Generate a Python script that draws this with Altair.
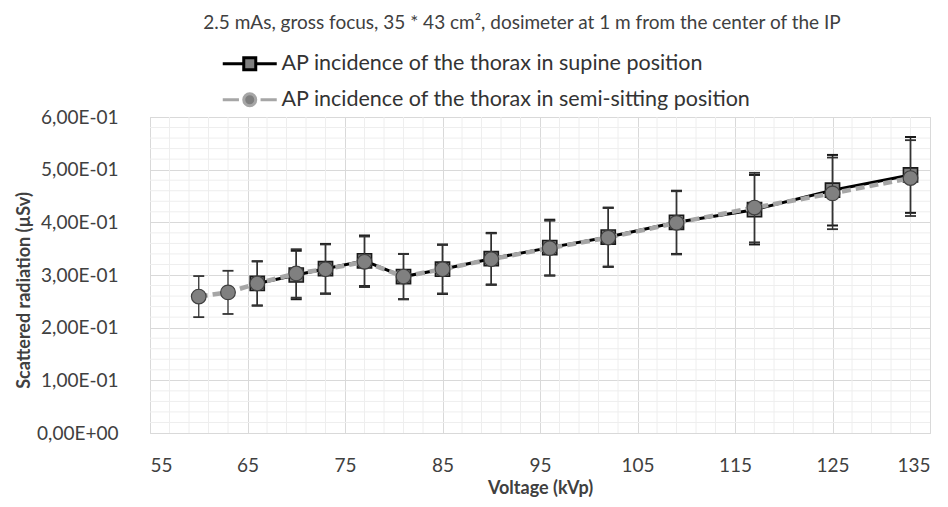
import altair as alt
import pandas as pd

# ---- data ----
series_names = ["AP incidence of the thorax in supine position",
                "AP incidence of the thorax in semi-sitting position"]

kvp_supine = [66, 70, 73, 77, 81, 85, 90, 96, 102, 109, 117, 125, 133]
dose_supine = [0.284, 0.300, 0.312, 0.327, 0.297, 0.311, 0.331, 0.352, 0.372, 0.400, 0.424, 0.461, 0.490]
err_supine = [0.042, 0.046, 0.047, 0.048, 0.043, 0.047, 0.049, 0.053, 0.056, 0.060, 0.066, 0.067, 0.072]

kvp_semi = [60, 63, 66, 70, 73, 77, 81, 85, 90, 96, 102, 109, 117, 125, 133]
dose_semi = [0.259, 0.267, 0.284, 0.303, 0.311, 0.325, 0.297, 0.311, 0.330, 0.351, 0.371, 0.399, 0.428, 0.455, 0.484]
err_semi = [0.039, 0.041, 0.042, 0.046, 0.047, 0.048, 0.043, 0.046, 0.049, 0.052, 0.056, 0.060, 0.066, 0.068, 0.072]

x_ticks = [55, 65, 75, 85, 95, 105, 115, 125, 135]
y_ticks = [0.0, 0.1, 0.2, 0.3, 0.4, 0.5, 0.6]
x_minor = [v for v in range(55, 136, 2) if (v - 55) % 10 != 0]
y_minor = [round(k * 0.02, 2) for k in range(31) if k % 5 != 0]

title_text = "2.5 mAs, gross focus, 35 * 43 cm², dosimeter at 1 m from the center of the IP"

FONT = "Lato"

sup = pd.DataFrame({"kvp": kvp_supine, "dose": dose_supine, "err": err_supine})
sup["lo"] = sup["dose"] - sup["err"]
sup["hi"] = sup["dose"] + sup["err"]
semi = pd.DataFrame({"kvp": kvp_semi, "dose": dose_semi, "err": err_semi})
semi["lo"] = semi["dose"] - semi["err"]
semi["hi"] = semi["dose"] + semi["err"]

xscale = alt.Scale(domain=[55, 135], nice=False, zero=False)
yscale = alt.Scale(domain=[0, 0.6], nice=False, zero=True)

x_axis = alt.Axis(values=x_ticks, title="Voltage (kVp)", grid=True, gridColor="#d9d9d9",
                  domain=False, ticks=False, tickSize=0, labelPadding=23,
                  labelFont=FONT, labelFontSize=19, labelColor="#404040",
                  titleFont=FONT, titleFontSize=18, titleFontWeight="bold",
                  titleColor="#404040", titlePadding=4)
y_axis = alt.Axis(values=y_ticks, title="Scattered radiation (µSv)", grid=True, gridColor="#d9d9d9",
                  domain=False, ticks=False, tickSize=0, labelPadding=32,
                  labelExpr="datum.value == 0 ? '0,00E+00' : replace(format(datum.value * 10, '.2f'), '.', ',') + 'E-01'",
                  labelFont=FONT, labelFontSize=19, labelColor="#404040",
                  titleFont=FONT, titleFontSize=18, titleFontWeight="bold",
                  titleColor="#404040", titlePadding=3, titleY=173)


def X(field):
    return alt.X(field, type="quantitative", scale=xscale, axis=x_axis)


def Y(field):
    return alt.Y(field, type="quantitative", scale=yscale, axis=y_axis)


minor_x = alt.Chart(pd.DataFrame({"v": x_minor})).mark_rule(color="#eeeeee", strokeWidth=1).encode(x=X("v"))
minor_y = alt.Chart(pd.DataFrame({"v": y_minor})).mark_rule(color="#eeeeee", strokeWidth=1).encode(y=Y("v"))


def errbars(df, color, width, capw):
    rule = alt.Chart(df).mark_rule(color=color, strokeWidth=width).encode(
        x=X("kvp"), y=Y("lo"), y2="hi")
    caps = alt.Chart(df).transform_fold(["lo", "hi"], as_=["k", "yy"]).mark_tick(
        orient="horizontal", color=color, size=capw, thickness=width + 0.5, opacity=1).encode(
        x=X("kvp"), y=Y("yy:Q"))
    return rule + caps


sup_err = errbars(sup, "#1a1a1a", 1.5, 11)
semi_err = errbars(semi, "#333333", 1.3, 11)

sup_line = alt.Chart(sup).mark_line(color="#000000", strokeWidth=3).encode(x=X("kvp"), y=Y("dose"))
semi_line = alt.Chart(semi).mark_line(color="#a6a6a6", strokeWidth=4.5, strokeDash=[9, 5]).encode(
    x=X("kvp"), y=Y("dose"))

sup_pts = alt.Chart(sup).mark_point(shape="square", filled=True, fill="#7f7f7f", stroke="#1a1a1a",
                                    strokeWidth=1.6, size=200, opacity=1).encode(x=X("kvp"), y=Y("dose"))
semi_pts = alt.Chart(semi).mark_point(shape="circle", filled=True, fill="#808080", stroke="#404040",
                                      strokeWidth=1.2, size=215, opacity=1).encode(x=X("kvp"), y=Y("dose"))

# legend-only layer (invisible marks; legend symbols are line + marker paths)
path_sup = "M-4.5,0H-1M1,0H4.5M-1,-1H1V1H-1Z"
path_semi = "M-4.5,0H-1.8M1.8,0H4.5M1,0A1,1,0,1,1,-1,0A1,1,0,1,1,1,0Z"
leg_df = pd.DataFrame({"series": series_names,
                       "kvp": [kvp_supine[0], kvp_semi[0]],
                       "dose": [dose_supine[0], dose_semi[0]]})
legend = alt.Legend(title=None, orient="none", legendX=89, legendY=-64, direction="vertical",
                    labelFont=FONT, labelFontSize=21.5, labelColor="#333333", labelLimit=0,
                    symbolSize=144, symbolStrokeWidth=3, symbolOpacity=1,
                    symbolFillColor="#7f7f7f", labelOffset=21, rowPadding=11, padding=0)
leg_layer = alt.Chart(leg_df).mark_point(filled=True, fill="#7f7f7f", opacity=0).encode(
    x=X("kvp"), y=Y("dose"),
    shape=alt.Shape("series:N", scale=alt.Scale(domain=series_names, range=[path_sup, path_semi]), legend=legend),
    stroke=alt.Stroke("series:N", scale=alt.Scale(domain=series_names, range=["#000000", "#a6a6a6"]), legend=legend),
)

chart = alt.layer(
    minor_x, minor_y, leg_layer,
    sup_err, sup_line, sup_pts,
    semi_err, semi_line, semi_pts,
).properties(
    width=780, height=316,
    title=alt.Title(title_text, font=FONT, fontSize=19, fontWeight="normal", color="#404040",
                    anchor="middle", dx=-18, offset=20),
    autosize=alt.AutoSizeParams(type="none"),
    padding={"left": 142, "top": 109, "right": 8, "bottom": 66},
).configure_view(stroke="#d9d9d9")

chart.save("out.html", embed_options={"renderer": "svg", "actions": False})
